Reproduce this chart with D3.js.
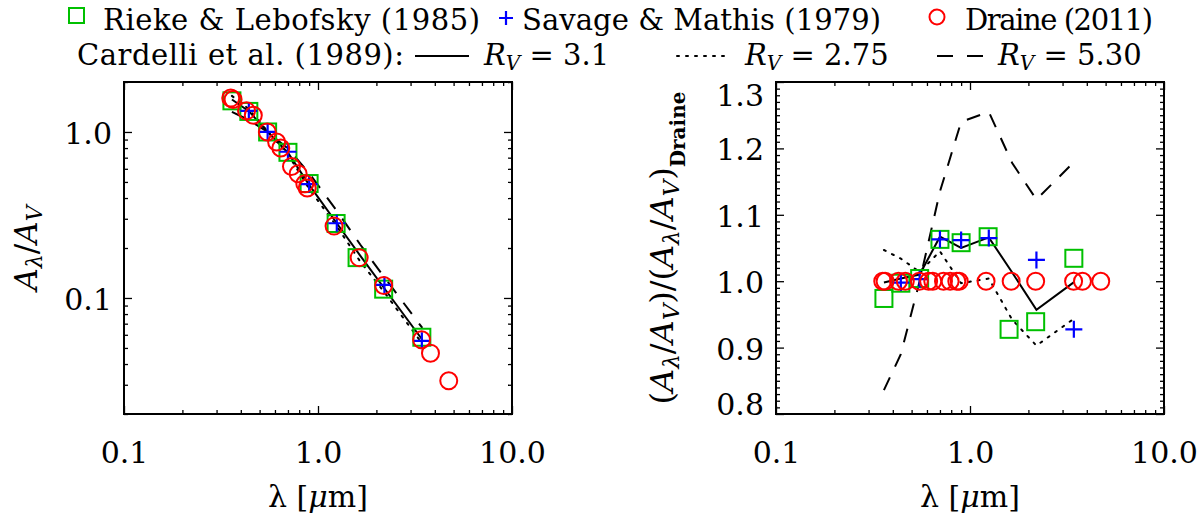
<!DOCTYPE html>
<html>
<head>
<meta charset="utf-8">
<script src="https://d3js.org/d3.v7.min.js"></script>
<style>
  body { margin: 0; background: #fff; }
  text { font-family: "DejaVu Serif", serif; fill: #000; }
</style>
</head>
<body>
<script>
// wavelengths in micron, extinction normalised to V

// Draine (2011)
const draineLam   = [0.355, 0.365, 0.428, 0.464, 0.548, 0.612, 0.643, 0.73, 0.79, 0.855, 0.88, 1.21, 1.63, 2.18, 3.42, 3.80, 4.72];
const draineA     = [1.60, 1.57, 1.34, 1.26, 1.00, 0.87, 0.80, 0.62, 0.56, 0.487, 0.46, 0.271, 0.175, 0.119, 0.056, 0.0465, 0.0317];
const draineRatio = [1, 1, 1, 1, 1, 1, 1, 1, 1, 1, 1, 1, 1, 1, 1, 1, 1];

// Rieke & Lebofsky (1985)
const riekeLam   = [0.36, 0.44, 0.55, 0.70, 0.90, 1.24, 1.59, 2.18, 3.43];
const riekeA     = [1.54, 1.33, 1.00, 0.754, 0.489, 0.281, 0.175, 0.113, 0.058];
const riekeRatio = [0.974, 0.997, 1.004, 1.063, 1.058, 1.067, 0.9275, 0.939, 1.0345];

// Savage & Mathis (1979)
const savageLam   = [0.44, 0.55, 0.70, 0.90, 1.25, 2.20, 3.43];
const savageA     = [1.34, 1.00, 0.76, 0.485, 0.282, 0.120, 0.0552];
const savageRatio = [0.998, 1.003, 1.063, 1.062, 1.065, 1.032, 0.9275];

// Cardelli et al. (1989)
const ccmLam      = [0.36, 0.44, 0.55, 0.70, 0.90, 1.25, 1.65, 2.20, 3.45];
const ccm310A     = [1.57, 1.335, 1.00, 0.75, 0.48, 0.282, 0.18, 0.114, 0.056];
const ccm275A     = [1.65, 1.375, 1.01, 0.735, 0.455, 0.27, 0.166, 0.108, 0.053];
const ccm530A     = [1.32, 1.18, 1.00, 0.795, 0.565, 0.335, 0.21, 0.133, 0.066];
const ccm310Ratio = [0.998, 1.004, 1.010, 1.067, 1.050, 1.066, 1.013, 0.957, 0.999];
const ccm275Ratio = [1.047, 1.034, 1.014, 1.045, 0.997, 1.004, 0.942, 0.903, 0.944];
const ccm530Ratio = [0.836, 0.89, 1.00, 1.135, 1.24, 1.255, 1.178, 1.123, 1.18];

// ticks
const xMajor  = [0.1, 1, 10];
const xMinor  = [0.2, 0.3, 0.4, 0.5, 0.6, 0.7, 0.8, 0.9, 2, 3, 4, 5, 6, 7, 8, 9];
const yLMajor = [0.1, 1];
const yLMinor = [0.02, 0.03, 0.04, 0.05, 0.06, 0.07, 0.08, 0.09, 0.2, 0.3, 0.4, 0.5, 0.6, 0.7, 0.8, 0.9, 2];
const yRMajor = [0.8, 0.9, 1.0, 1.1, 1.2, 1.3];

const green = "#00c000", blue = "#0000ff", red = "#ff0000";

const svg = d3.select("body").append("svg")
    .attr("width", 1200)
    .attr("height", 517);

const xL = d3.scaleLog().domain([0.1, 10]).range([124, 512]);
const yL = d3.scaleLog().domain([0.02, 2]).range([414, 82]);
const xR = d3.scaleLog().domain([0.1, 10]).range([776, 1164]);
const yR = d3.scaleLinear().domain([0.8, 1.3]).range([414, 82]);

const yRMinor = d3.range(80, 131).map(d => d / 100).filter(d => Math.round(d * 100) % 10 !== 0);

function ticks(axis, scale, values, size, tx, ty, fmt) {
    let a = axis(scale).tickValues(values).tickSize(-size).tickPadding(12);
    a = fmt ? a.tickFormat(fmt) : a.tickFormat("");
    let g = svg.append("g")
        .attr("transform", `translate(${tx},${ty})`)
        .call(a);
    g.select(".domain").remove();
    g.selectAll("line").attr("stroke", "#000").attr("stroke-width", 1.3);
    g.selectAll("text").attr("font-size", 30).attr("font-family", "DejaVu Serif");
    return g;
}

function frame(x, y, yMajor, yMinor, yFmt) {
    let [x0, x1] = x.range(), [y0, y1] = y.range();
    let fx = d3.format(".1f");
    // bottom / top
    let gb = ticks(d3.axisBottom, x, xMajor, 8, 0, y0, fx);
    gb.selectAll("text").attr("y", 28).attr("dy", "0.71em");
    ticks(d3.axisBottom, x, xMinor, 4, 0, y0);
    ticks(d3.axisTop, x, xMajor, 8, 0, y1);
    ticks(d3.axisTop, x, xMinor, 4, 0, y1);
    // left / right
    let gl = ticks(d3.axisLeft, y, yMajor, 8, x0, 0, yFmt);
    ticks(d3.axisLeft, y, yMinor, 4, x0, 0);
    ticks(d3.axisRight, y, yMajor, 8, x1, 0);
    ticks(d3.axisRight, y, yMinor, 4, x1, 0);
    svg.append("rect")
        .attr("x", x0).attr("y", y1)
        .attr("width", x1 - x0).attr("height", y0 - y1)
        .attr("fill", "none").attr("stroke", "#000").attr("stroke-width", 2);
    return gl;
}

frame(xL, yL, yLMajor, yLMinor, d3.format(".1f"))
    .selectAll("text").attr("dy", "0.4em");
let glR = frame(xR, yR, yRMajor, yRMinor, d3.format(".1f"));
glR.selectAll("text").attr("dy", d => d === 1.3 ? "0.78em" : d === 0.8 ? "0.02em" : "0.38em");

// lines
const lineStyles = [
    {A: ccm310A, R: ccm310Ratio, dash: null},
    {A: ccm275A, R: ccm275Ratio, dash: "2 7"},
    {A: ccm530A, R: ccm530Ratio, dash: "14 12"}
];

function drawLine(x, y, lam, vals, dash) {
    let line = d3.line().x((d, i) => x(lam[i])).y(d => y(d));
    svg.append("path")
        .datum(vals)
        .attr("d", line)
        .attr("fill", "none")
        .attr("stroke", "#000")
        .attr("stroke-width", 2)
        .attr("stroke-linecap", dash === "2 7" ? "round" : "butt")
        .attr("stroke-dasharray", dash);
}

lineStyles.forEach(s => {
    drawLine(xL, yL, ccmLam, s.A, s.dash);
    drawLine(xR, yR, ccmLam, s.R, s.dash);
});

// markers
function squares(x, y, lam, vals, size) {
    svg.append("g").selectAll("rect")
        .data(vals)
        .join("rect")
        .attr("x", (d, i) => x(lam[i]) - size / 2)
        .attr("y", d => y(d) - size / 2)
        .attr("width", size).attr("height", size)
        .attr("fill", "none").attr("stroke", green).attr("stroke-width", 2);
}

function pluses(x, y, lam, vals, size) {
    svg.append("g").selectAll("path")
        .data(vals)
        .join("path")
        .attr("d", (d, i) => {
            let cx = x(lam[i]), cy = y(d), h = size / 2;
            return `M${cx - h},${cy}H${cx + h}M${cx},${cy - h}V${cy + h}`;
        })
        .attr("stroke", blue).attr("stroke-width", 2.2);
}

function circles(x, y, lam, vals, r) {
    svg.append("g").selectAll("circle")
        .data(vals)
        .join("circle")
        .attr("cx", (d, i) => x(lam[i]))
        .attr("cy", d => y(d))
        .attr("r", r)
        .attr("fill", "none").attr("stroke", red).attr("stroke-width", 2);
}

squares(xL, yL, riekeLam, riekeA, 17);
pluses(xL, yL, savageLam, savageA, 17);
circles(xL, yL, draineLam, draineA, 8.5);

squares(xR, yR, riekeLam, riekeRatio, 17);
pluses(xR, yR, savageLam, savageRatio, 17);
circles(xR, yR, draineLam, draineRatio, 8.5);

// rich text helper: parts {t, it, sub, b, fs}
function rich(sel, parts, base, subSize, drop) {
    let down = false;
    parts.forEach(p => {
        let ts = sel.append("tspan").text(p.t);
        if (p.it) ts.attr("font-style", "italic");
        if (p.b) ts.attr("font-weight", "bold");
        if (p.sub) {
            ts.attr("font-size", p.fs || subSize);
            if (!down) { ts.attr("dy", p.drop || drop); down = p.drop || drop; }
        } else {
            ts.attr("font-size", base);
            if (down) { ts.attr("dy", -down); down = false; }
        }
    });
}

// axis titles
svg.append("text")
    .attr("x", 318).attr("y", 507).attr("text-anchor", "middle")
    .call(t => rich(t, [{t: "λ ["}, {t: "μ", it: true}, {t: "m]"}], 30, 22, 6));
svg.append("text")
    .attr("x", 970).attr("y", 507).attr("text-anchor", "middle")
    .call(t => rich(t, [{t: "λ ["}, {t: "μ", it: true}, {t: "m]"}], 30, 22, 6));

svg.append("text")
    .attr("transform", "translate(37,248) rotate(-90)").attr("text-anchor", "middle")
    .call(t => rich(t, [
        {t: "A", it: true}, {t: "λ", it: true, sub: true}, {t: "/"},
        {t: "A", it: true}, {t: "V", it: true, sub: true}
    ], 31, 22, 5));

svg.append("text")
    .attr("transform", "translate(673,248) rotate(-90)").attr("text-anchor", "middle")
    .call(t => rich(t, [
        {t: "("}, {t: "A", it: true}, {t: "λ", it: true, sub: true}, {t: "/"},
        {t: "A", it: true}, {t: "V", it: true, sub: true}, {t: ")/("},
        {t: "A", it: true}, {t: "λ", it: true, sub: true}, {t: "/"},
        {t: "A", it: true}, {t: "V", it: true, sub: true}, {t: ")"},
        {t: "Draine", sub: true, b: true, fs: 20, drop: 12}
    ], 32, 23, 6));

// legend
const lg = svg.append("g");
lg.append("rect").attr("x", 69).attr("y", 8).attr("width", 15).attr("height", 15)
    .attr("fill", "none").attr("stroke", green).attr("stroke-width", 2);
lg.append("text").attr("x", 103).attr("y", 30).attr("font-size", 29)
    .attr("textLength", 377).attr("lengthAdjust", "spacing")
    .text("Rieke & Lebofsky (1985)");
lg.append("path").attr("d", "M499,18H513M506,11V25")
    .attr("stroke", blue).attr("stroke-width", 2.2);
lg.append("text").attr("x", 522).attr("y", 30).attr("font-size", 29)
    .attr("textLength", 359).attr("lengthAdjust", "spacing")
    .text("Savage & Mathis (1979)");
lg.append("circle").attr("cx", 937).attr("cy", 17).attr("r", 7.5)
    .attr("fill", "none").attr("stroke", red).attr("stroke-width", 2);
lg.append("text").attr("x", 965).attr("y", 30).attr("font-size", 29)
    .attr("textLength", 188).attr("lengthAdjust", "spacing")
    .text("Draine (2011)");

lg.append("text").attr("x", 77).attr("y", 65).attr("font-size", 29)
    .attr("textLength", 327).attr("lengthAdjust", "spacing")
    .text("Cardelli et al. (1989):");

const rvLabels = ["3.1", "2.75", "5.30"];
const legendLines = [
    {x0: 415, x1: 469, tx: 484, dash: null},
    {x0: 677, x1: 730, tx: 745, dash: "2 7"},
    {x0: 937, x1: 983, tx: 998, dash: "16 14"}
];
legendLines.forEach((l, i) => {
    lg.append("line").attr("x1", l.x0).attr("x2", l.x1).attr("y1", 56).attr("y2", 56)
        .attr("stroke", "#000").attr("stroke-width", 2)
        .attr("stroke-linecap", l.dash === "2 7" ? "round" : "butt")
        .attr("stroke-dasharray", l.dash);
    lg.append("text").attr("x", l.tx).attr("y", 65)
        .call(t => rich(t, [
            {t: "R", it: true}, {t: "V", it: true, sub: true}, {t: " = " + rvLabels[i]}
        ], 29, 20, 5));
});
</script>
</body>
</html>
